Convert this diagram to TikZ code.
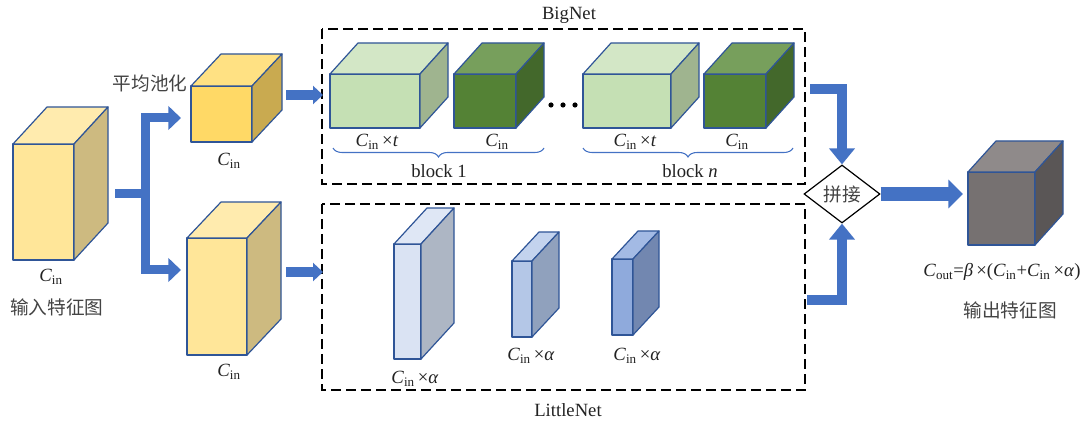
\documentclass[tikz,border=0pt]{standalone}
\usepackage{fontspec}
\setmainfont{Liberation Serif}
\newfontfamily\cjk{Noto Sans CJK SC}
\usetikzlibrary{arrows.meta,shapes.geometric,decorations.pathreplacing}
\definecolor{edgeblue}{HTML}{2F5597}
\definecolor{arrowblue}{HTML}{4472C4}
\definecolor{ylF}{HTML}{FFE699}\definecolor{ylT}{HTML}{FFEBAE}\definecolor{ylS}{HTML}{CDBA80}
\definecolor{gdF}{HTML}{FFD966}\definecolor{gdT}{HTML}{FFE183}\definecolor{gdS}{HTML}{C9AA50}
\definecolor{lgF}{HTML}{C5E0B4}\definecolor{lgT}{HTML}{D3E7C6}\definecolor{lgS}{HTML}{9FB48F}
\definecolor{dgF}{HTML}{548235}\definecolor{dgT}{HTML}{779F5C}\definecolor{dgS}{HTML}{43682B}
\definecolor{b1F}{HTML}{DAE3F3}\definecolor{b1T}{HTML}{DFE7F5}\definecolor{b1S}{HTML}{ADB6C4}
\definecolor{b2F}{HTML}{B4C7E7}\definecolor{b2T}{HTML}{C3D3EE}\definecolor{b2S}{HTML}{90A1BD}
\definecolor{b3F}{HTML}{8FAADC}\definecolor{b3T}{HTML}{A3BAE4}\definecolor{b3S}{HTML}{7287B0}
\definecolor{gyF}{HTML}{767171}\definecolor{gyT}{HTML}{8F8A8A}\definecolor{gyS}{HTML}{5A5656}
\definecolor{txt}{HTML}{222222}
\newcommand\Cinp{\textit{C}\textsubscript{in}}
% x1 y1 x2 y2 dx dyup front top side
\newcommand\mycube[9]{%
  \draw[cubeedge,fill=#7] (#1,#2) rectangle (#3,#4);
  \draw[cubeedge,fill=#8] (#1,#2) -- (#1+#5,#2-#6) -- (#3+#5,#2-#6) -- (#3,#2) -- cycle;
  \draw[cubeedge,fill=#9] (#3,#2) -- (#3+#5,#2-#6) -- (#3+#5,#4-#6) -- (#3,#4) -- cycle;
}
\begin{document}
\begin{tikzpicture}[x=0.75pt,y=-0.75pt,
  font=\fontsize{14}{16}\selectfont,
  cubeedge/.style={draw=edgeblue,line width=0.9pt,line join=round},
  fat/.style={draw=arrowblue,line width=6.75pt,line join=miter},
  fattip/.style={fat,-{Triangle[width=17.5pt,length=9.5pt]}},
  midtip/.style={draw=arrowblue,line width=7.5pt,line join=miter,-{Triangle[width=18.75pt,length=12pt]}},
  bigtip/.style={draw=arrowblue,line width=10.5pt,-{Triangle[width=21pt,length=11pt]}},
  smalltip/.style={draw=arrowblue,line width=7.5pt,-{Triangle[width=13.5pt,length=7.5pt]}},
  dashbox/.style={draw=black,line width=1.7pt,dash pattern=on 7.5pt off 3.75pt},
  bracest/.style={decorate,decoration={brace,amplitude=6.75pt},draw=arrowblue,line width=0.8pt},
  lbl/.style={text=txt,inner sep=0pt},
  cjklbl/.style={text=txt!85!white,inner sep=0pt,font=\fontsize{14}{16}\selectfont\cjk}]
\useasboundingbox (0,0) rectangle (1083,424);

% dashed boxes
\draw[dashbox] (322,29) rectangle (805,184);
\draw[dashbox] (322,204) rectangle (805,390);
\node[lbl] (bignet) at (569,15) {BigNet};
\node[lbl] (littlenet) at (568,410) {LittleNet};

% input cube
\mycube{13}{144}{74}{260}{34}{37}{ylF}{ylT}{ylS}
\node[lbl] (cin0) at (51,277) {\Cinp};
\node[cjklbl] (inlab) at (57,307) {输入特征图};

% pooled cube
\mycube{191}{86}{252}{142}{30}{32}{gdF}{gdT}{gdS}
\node[cjklbl] (pool) at (150,83) {平均池化};
\node[lbl] (cin1) at (229,161) {\Cinp};

% lower cube
\mycube{187}{238}{247}{355}{34}{36}{ylF}{ylT}{ylS}
\node[lbl] (cin2) at (229,372) {\Cinp};

% branch arrows
\coordinate (inR) at (115,194);
\coordinate (br) at (145,194);
\coordinate (poolL) at (181,118);
\coordinate (lowL) at (181,270);
\draw[fat] (inR) -- (br);
\draw[fattip] (br) |- (poolL);
\draw[fattip] (br) |- (lowL);

\coordinate (poolR) at (286,95);
\coordinate (bigL) at (323,95);
\coordinate (lowR) at (286,272);
\coordinate (litL) at (323,272);
\draw[smalltip] (poolR) -- (bigL);
\draw[smalltip] (lowR) -- (litL);

% BigNet cubes
\mycube{330}{74}{420}{128}{28}{31}{lgF}{lgT}{lgS}
\mycube{454}{74}{516}{128}{28}{31}{dgF}{dgT}{dgS}
\mycube{583}{74}{671}{128}{28}{31}{lgF}{lgT}{lgS}
\mycube{704}{74}{766}{128}{28}{31}{dgF}{dgT}{dgS}
\foreach \x in {551,563,575} \fill[black] (\x,105) circle (2.6);

\node[lbl] (l1) at (377,142) {\Cinp\,×\textit{t}};
\node[lbl] (l2) at (497,142) {\Cinp};
\node[lbl] (l3) at (635,142) {\Cinp\,×\textit{t}};
\node[lbl] (l4) at (737,142) {\Cinp};
\draw[bracest] (544,148) -- (333,148);
\draw[bracest] (793,148) -- (583,148);
\node[lbl] (blk1) at (439,171) {block 1};
\node[lbl] (blkn) at (690,171) {block \textit{n}};

% LittleNet cubes
\mycube{394}{244}{421}{359}{33}{36}{b1F}{b1T}{b1S}
\mycube{512}{261}{532}{337}{27}{29}{b2F}{b2T}{b2S}
\mycube{612}{259}{633}{335}{26}{28}{b3F}{b3T}{b3S}
\node[lbl] (a1) at (415,379) {\Cinp\,×\textit{α}};
\node[lbl] (a2) at (531,356) {\Cinp\,×\textit{α}};
\node[lbl] (a3) at (637,356) {\Cinp\,×\textit{α}};

% concat
\node[draw=black,line width=0.9pt,shape=diamond,inner sep=0pt,minimum width=57pt,minimum height=43.5pt,fill=white,font=\fontsize{14}{16}\selectfont\cjk,text=txt!85!white] (cat) at (842,194) {拼接};
\coordinate (bigR) at (810,89);
\coordinate (litR) at (807,300);
\draw[midtip] (bigR) -| (cat.north);
\draw[midtip] (litR) -| (cat.south);
\coordinate (outL) at (963,194);
\draw[bigtip] (cat.east) -- (outL);

% output cube
\mycube{968}{172}{1035}{245}{28}{31}{gyF}{gyT}{gyS}
\node[lbl] (cout) at (1002,272) {\textit{C}\textsubscript{out}=\textit{β}\,×(\Cinp+\Cinp\,×\textit{α})};
\node[cjklbl] (outlab) at (1010,310) {输出特征图};
\end{tikzpicture}
\end{document}
